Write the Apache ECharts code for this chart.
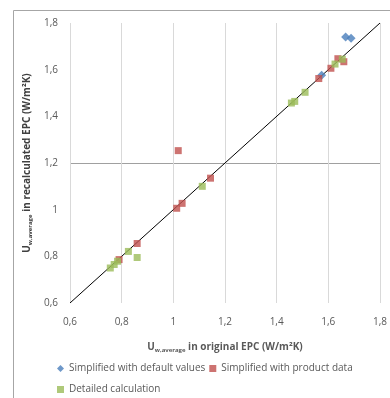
<!DOCTYPE html>
<html>
<head>
<meta charset="utf-8">
<script src="https://cdn.jsdelivr.net/npm/echarts@6/dist/echarts.min.js"></script>
<style>
  html, body { margin: 0; padding: 0; background: #fff; }
  #main { width: 390px; height: 398px; }
</style>
</head>
<body>
<div id="main"></div>
<script>
// U-values [original EPC, recalculated EPC]
const defaultValues = [[1.667, 1.74], [1.688, 1.735], [1.574, 1.576]];
const productData = [
  [1.019, 1.253], [1.144, 1.135], [1.013, 1.006], [1.034, 1.027],
  [0.86, 0.855], [0.79, 0.786], [1.563, 1.562], [1.61, 1.606],
  [1.637, 1.647], [1.66, 1.634]
];
const detailed = [
  [0.756, 0.75], [0.771, 0.765], [0.784, 0.779], [0.826, 0.821],
  [0.86, 0.795], [1.112, 1.1], [1.457, 1.457], [1.47, 1.464],
  [1.51, 1.503], [1.626, 1.624], [1.654, 1.645]
];
const diagonal = [[0.6, 0.6], [1.8, 1.8]];
const axisMin = 0.6, axisMax = 1.8, axisStep = 0.2;

const fmt = v => String(Math.round(v * 10) / 10).replace('.', ',');
const txt = '#595959';
const font = 'Open Sans';

const chart = echarts.init(document.getElementById('main'));

// only the 1,2 line is drawn horizontally
const hLines = [];
for (let v = axisMin; v <= axisMax + 1e-9; v += axisStep) {
  hLines.push(Math.abs(v - 1.2) < 1e-6 ? '#a0a0a0' : 'rgba(0,0,0,0)');
}

chart.setOption({
  animation: false,
  textStyle: { fontFamily: font },
  graphic: [{
    type: 'rect',
    shape: { x: 13.5, y: 10.5, width: 420, height: 420 },
    style: { fill: 'none', stroke: '#a6a6a6', lineWidth: 1 },
    silent: true
  }],
  grid: { left: 70, right: 5, top: 23, bottom: 95 },
  legend: {
    left: 52, top: 355, width: 330,
    itemWidth: 7, itemHeight: 7, itemGap: 4,
    textStyle: { color: txt, fontSize: 10, fontFamily: font, lineHeight: 17 },
    data: [
      { name: 'Simplified with default values', icon: 'diamond' },
      { name: 'Simplified with product data', icon: 'rect' },
      { name: 'Detailed calculation', icon: 'rect' }
    ]
  },
  xAxis: {
    type: 'value', min: axisMin, max: axisMax, interval: axisStep,
    axisLine: { show: false }, axisTick: { show: false },
    axisLabel: { color: txt, fontSize: 10, margin: 14, formatter: fmt },
    splitLine: { lineStyle: { color: '#d9d9d9' } },
    nameLocation: 'middle', nameGap: 38,
    name: '{b|U}{s|w,average}{b| in original EPC (W/m²K)}',
    nameTextStyle: {
      rich: {
        b: { fontSize: 10, fontWeight: 'bold', color: txt, fontFamily: font },
        s: { fontSize: 6, fontWeight: 'bold', color: txt, fontFamily: font, padding: [6, 0, 0, 0] }
      }
    }
  },
  yAxis: {
    type: 'value', min: axisMin, max: axisMax, interval: axisStep,
    axisLine: { show: false }, axisTick: { show: false },
    axisLabel: { color: txt, fontSize: 10, margin: 12, formatter: fmt },
    splitLine: { lineStyle: { color: hLines } },
    nameLocation: 'middle', nameGap: 34, nameRotate: 90,
    name: '{b|U}{s|w,average}{b| in recalculated EPC (W/m²K)}',
    nameTextStyle: {
      rich: {
        b: { fontSize: 10, fontWeight: 'bold', color: '#404040', fontFamily: font },
        s: { fontSize: 6, fontWeight: 'bold', color: '#404040', fontFamily: font, padding: [6, 0, 0, 0] }
      }
    }
  },
  series: [
    {
      type: 'line', data: diagonal, showSymbol: false, silent: true,
      lineStyle: { color: '#000', width: 1 }, z: 1
    },
    {
      name: 'Simplified with default values', type: 'scatter', data: defaultValues,
      symbol: 'diamond', symbolSize: 9, itemStyle: { color: '#4a7ebb' }, z: 2
    },
    {
      name: 'Simplified with product data', type: 'scatter', data: productData,
      symbol: 'rect', symbolSize: 7, itemStyle: { color: '#c0504d' }, z: 3
    },
    {
      name: 'Detailed calculation', type: 'scatter', data: detailed,
      symbol: 'rect', symbolSize: 7, itemStyle: { color: '#9bbb59' }, z: 4
    }
  ]
});
</script>
</body>
</html>
